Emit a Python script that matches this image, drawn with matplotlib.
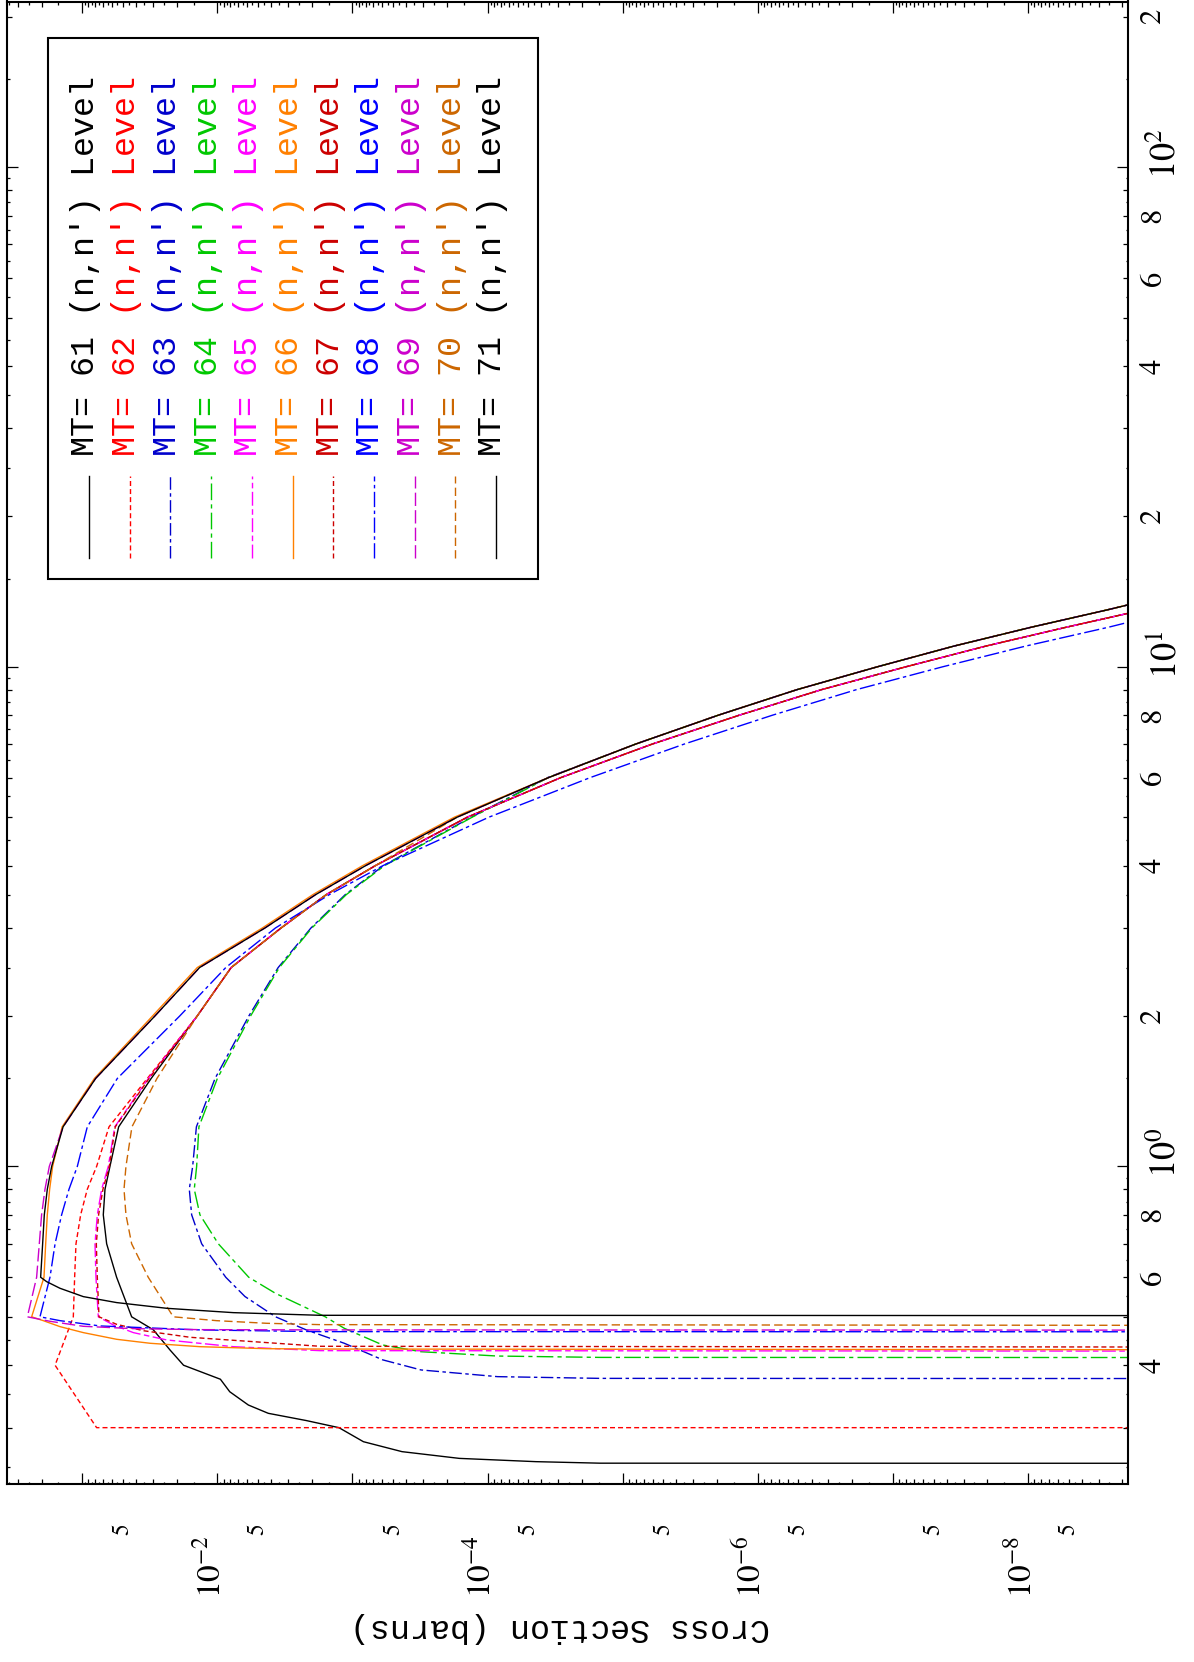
import numpy as np
import matplotlib
matplotlib.use('Agg')
import matplotlib.pyplot as plt
from matplotlib.lines import Line2D
from matplotlib.patches import Rectangle
from matplotlib.ticker import FixedLocator, FuncFormatter
import matplotlib.transforms as mtransforms

# ---------------- data (energy in MeV, cross section in barns) ----------------
G1_E = [1.2, 1.5, 2.0, 2.5, 3.0, 3.5, 4.0, 5.0, 6.0, 7.0, 8.0, 9.0, 10.0, 11.0, 12.0, 13.0, 13.3]
G1_S = [0.1387, 0.0796, 0.0290, 0.01355, 4.45e-3, 1.87e-3, 7.98e-4, 1.68e-4, 3.54e-5, 8.05e-6,
        1.96e-6, 5.12e-7, 1.30e-7, 3.53e-8, 9.44e-9, 2.58e-9, 1.82e-9]
G2_E = [2.0, 2.5, 3.0, 3.5, 4.0, 5.0, 6.0, 7.0, 8.0, 9.0, 10.0, 11.0, 12.0, 12.79]
G2_S = [0.0141, 7.91e-3, 3.38e-3, 1.56e-3, 6.76e-4, 1.41e-4, 2.87e-5, 6.07e-6, 1.37e-6,
        3.37e-7, 8.0e-8, 2.05e-8, 5.2e-9, 1.82e-9]
B68_E = [1.2, 1.5, 2.0, 2.5, 3.0, 3.5, 4.0, 5.0, 6.0, 7.0, 8.0, 9.0, 10.0, 11.0, 12.0, 12.27]
B68_S = [0.0918, 0.055, 0.019, 8.67e-3, 3.72e-3, 1.48e-3, 5.94e-4, 9.77e-5, 1.74e-5, 3.52e-6,
         7.78e-7, 1.86e-7, 4.27e-8, 1.04e-8, 2.53e-9, 1.82e-9]

E_61_LOW = [0.2545, 0.2547, 0.2565, 0.2604, 0.2686, 0.2812, 0.300, 0.310, 0.3205, 0.333, 0.354,
            0.375, 0.400, 0.429, 0.471, 0.500, 0.600, 0.700, 0.800, 0.900, 1.00, 1.2, 1.5]
S_61_LOW = [1e-12, 1.47e-5, 4.4e-5, 1.62e-4, 4.3e-4, 8.3e-4, 1.26e-3, 2.2e-3, 4.2e-3, 5.9e-3, 8.1e-3,
            9.5e-3, 0.0178, 0.0224, 0.0298, 0.0431, 0.0557, 0.066, 0.0699, 0.0679, 0.0624, 0.0538, 0.0309]
E_62_LOW = [0.300, 0.300, 0.400, 0.500, 0.600, 0.700, 0.800, 0.900, 1.00, 1.2, 1.5]
S_62_LOW = [1e-12, 0.0783, 0.159, 0.1165, 0.1139, 0.1113, 0.1028, 0.0918, 0.0783, 0.0634, 0.0330]
E_63_LOW = [0.3760, 0.3765, 0.3795, 0.3914, 0.410, 0.4426, 0.4708, 0.500, 0.549, 0.600, 0.700, 0.800,
            0.900, 1.00, 1.2, 1.5, 2.0, 2.5, 3.0, 3.5, 4.0, 5.0, 6.0]
S_63_LOW = [1e-12, 1.47e-5, 8.44e-5, 3.11e-4, 5.97e-4, 1.15e-3, 2.2e-3, 3.71e-3, 6.25e-3, 8.67e-3,
            0.01307, 0.0155, 0.01614, 0.01524, 0.0143, 0.0104, 5.85e-3, 3.55e-3, 2.03e-3, 1.13e-3,
            5.9e-4, 1.32e-4, 3.6e-5]
E_64_LOW = [0.4143, 0.4147, 0.4173, 0.4257, 0.4391, 0.4742, 0.500, 0.557, 0.600, 0.700, 0.800, 0.900,
            1.00, 1.2, 1.5, 2.0, 2.5, 3.0, 3.5, 4.0, 5.0, 6.0]
S_64_LOW = [1e-12, 1.47e-5, 8.44e-5, 3.11e-4, 5.97e-4, 1.15e-3, 1.59e-3, 3.71e-3, 5.86e-3, 9.84e-3,
            0.01346, 0.01483, 0.01424, 0.0137, 0.0100, 5.68e-3, 3.48e-3, 2.0e-3, 1.11e-3, 5.78e-4,
            1.30e-4, 3.55e-5]
E_65_LOW = [0.4265, 0.4278, 0.4357, 0.4494, 0.4649, 0.4816, 0.500, 0.600, 0.700, 0.800, 0.900, 1.00, 1.2, 1.5]
S_65_LOW = [1e-12, 1.74e-3, 7.62e-3, 0.0237, 0.0419, 0.0589, 0.0761, 0.0792, 0.0805, 0.0774, 0.0719,
            0.0642, 0.0575, 0.0324]
E_66_LOW = [0.4290, 0.4310, 0.4317, 0.4357, 0.4426, 0.4508, 0.4649, 0.4779, 0.4912, 0.500, 0.600, 0.700,
            0.800, 0.900, 1.00, 1.2, 1.5, 2.0, 2.5, 3.0, 3.5, 4.0, 5.0]
S_66_LOW = [1e-12, 1.74e-3, 4.32e-3, 0.01345, 0.0315, 0.0557, 0.0983, 0.1463, 0.1943, 0.237, 0.192,
            0.1866, 0.1815, 0.1744, 0.1657, 0.141, 0.0813, 0.0302, 0.0141, 4.65e-3, 1.96e-3, 8.4e-4, 1.76e-4]
E_67_LOW = [0.4343, 0.4365, 0.455, 0.469, 0.483, 0.500, 0.600, 0.700, 0.800, 0.900, 1.00, 1.2, 1.5]
S_67_LOW = [1e-12, 1.74e-3, 0.01596, 0.0353, 0.0557, 0.0752, 0.0774, 0.0787, 0.0757, 0.0703, 0.0631,
            0.0570, 0.0320]
E_68_LOW = [0.4665, 0.467, 0.4707, 0.4794, 0.4912, 0.500, 0.600, 0.700, 0.800, 0.900, 1.00]
S_68_LOW = [1e-12, 1.74e-3, 0.01345, 0.074, 0.146, 0.2056, 0.1734, 0.159, 0.1422, 0.1254, 0.1088]
E_69_LOW = [0.4700, 0.4707, 0.4713, 0.4735, 0.4786, 0.4898, 0.500, 0.600, 0.700, 0.800, 0.900, 1.00]
S_69_LOW = [1e-12, 1.74e-3, 0.01345, 0.0419, 0.0983, 0.1734, 0.255, 0.2177, 0.208, 0.200, 0.1888, 0.1754]
E_70_LOW = [0.4800, 0.4823, 0.4853, 0.4912, 0.500, 0.600, 0.700, 0.800, 0.900, 1.00, 1.2, 1.5, 2.0,
            2.5, 3.0, 3.5, 4.0]
S_70_LOW = [1e-12, 1.74e-3, 4.32e-3, 0.01012, 0.0212, 0.0325, 0.0431, 0.0475, 0.0491, 0.0475, 0.0429,
            0.0280, 0.0141, 7.91e-3, 3.38e-3, 1.56e-3, 6.76e-4]
E_71_LOW = [0.5025, 0.5035, 0.5097, 0.520, 0.5339, 0.5488, 0.5703, 0.588, 0.600, 0.700, 0.800, 0.900, 1.00]
S_71_LOW = [1e-12, 1.74e-3, 7.62e-3, 0.0237, 0.0557, 0.0983, 0.1463, 0.1836, 0.2033, 0.1965, 0.191,
            0.1815, 0.1685]

MT_NUMBERS = [61, 62, 63, 64, 65, 66, 67, 68, 69, 70, 71]
COLORS = ['#000000', '#FF0000', '#0000CC', '#00C800', '#FF00FF', '#FF8000',
          '#CC0000', '#0000FF', '#CC00CC', '#CC6600', '#000000']
STYLES = ['-', (0, (3.6, 2.2)), (0, (9, 2.5, 2.5, 2.5)), (0, (12, 3, 3, 3)),
          (0, (10, 2.5, 4, 2.5)), '-', (0, (3.6, 2.2)), (0, (11, 2.5, 2.5, 2.5)),
          (0, (9.6, 3)), (0, (6, 3)), '-']
LEGEND_TEXT = "MT= {} (n,n') Level"
XLABEL = 'Cross Section (barns)'

X_MAJOR = [1e-1, 1e-2, 1e-3, 1e-4, 1e-5, 1e-6, 1e-7, 1e-8]
X_MAJOR_LABELS = {1e-2: r'$10^{-2}$', 1e-4: r'$10^{-4}$', 1e-6: r'$10^{-6}$', 1e-8: r'$10^{-8}$'}
Y_MAJOR = [1.0, 10.0, 100.0]
Y_MAJOR_LABELS = {1.0: r'$10^{0}$', 10.0: r'$10^{1}$', 100.0: r'$10^{2}$'}
X_LABELED_MANTISSA = [5]
Y_LABELED_MANTISSA = [2, 4, 6, 8]
XLIM = (0.3607, 1.82e-9)
YLIM = (0.2314, 214.5)


def tail(E, S, e0):
    i = E.index(e0)
    return E[i:], S[i:]


g1_6 = tail(G1_E, G1_S, 6.0)
g1_7 = tail(G1_E, G1_S, 7.0)
g1_5 = tail(G1_E, G1_S, 5.0)

CURVES = [
    (E_61_LOW + G2_E, S_61_LOW + G2_S),
    (E_62_LOW + G2_E, S_62_LOW + G2_S),
    (E_63_LOW + g1_7[0], S_63_LOW + g1_7[1]),
    (E_64_LOW + g1_7[0], S_64_LOW + g1_7[1]),
    (E_65_LOW + G2_E, S_65_LOW + G2_S),
    (E_66_LOW + g1_6[0], S_66_LOW + g1_6[1]),
    (E_67_LOW + G2_E, S_67_LOW + G2_S),
    (E_68_LOW + B68_E, S_68_LOW + B68_S),
    (E_69_LOW + G1_E, S_69_LOW + G1_S),
    (E_70_LOW + g1_5[0], S_70_LOW + g1_5[1]),
    (E_71_LOW + G1_E, S_71_LOW + G1_S),
]

# ---------------- figure ----------------
W, H, DPI = 1194, 1662, 100
plt.rcParams['lines.scale_dashes'] = False
plt.rcParams['mathtext.fontset'] = 'stix'
plt.rcParams['font.family'] = ['STIXGeneral', 'DejaVu Sans']

fig = plt.figure(figsize=(W / DPI, H / DPI), dpi=DPI)
px = mtransforms.Affine2D().scale(1.0 / W, -1.0 / H).translate(0, 1) + fig.transFigure

L, R, T, B = 7, 1128, 1.5, 1484
ax = fig.add_axes([L / W, 1 - B / H, (R - L) / W, (B - T) / H])
ax.set_xscale('log')
ax.set_yscale('log')

for (E, S), c, ls in zip(CURVES, COLORS, STYLES):
    ax.plot(S, E, color=c, linestyle=ls, lw=1.0, dash_capstyle='butt', solid_joinstyle='miter')

ax.set_xlim(*XLIM)
ax.set_ylim(*YLIM)

for sp in ax.spines.values():
    sp.set_linewidth(1.5)


def minor_positions(lo, hi):
    out = []
    for d in range(-10, 4):
        for m in np.arange(1.5, 10.0, 0.5):
            v = m * 10.0 ** d
            if lo < v < hi:
                out.append(v)
    return out


def mant(v):
    e = np.floor(np.log10(v) + 1e-9)
    return v / 10.0 ** e


x_minor = minor_positions(min(XLIM), max(XLIM))
y_minor = minor_positions(min(YLIM), max(YLIM))

ax.xaxis.set_major_locator(FixedLocator(X_MAJOR))
ax.xaxis.set_minor_locator(FixedLocator(x_minor))
ax.yaxis.set_major_locator(FixedLocator(Y_MAJOR))
ax.yaxis.set_minor_locator(FixedLocator(y_minor))


def xmaj_fmt(v, pos):
    for k, s in X_MAJOR_LABELS.items():
        if abs(np.log10(v) - np.log10(k)) < 1e-6:
            return s
    return ''


def ymaj_fmt(v, pos):
    for k, s in Y_MAJOR_LABELS.items():
        if abs(np.log10(v) - np.log10(k)) < 1e-6:
            return s
    return ''


def xmin_fmt(v, pos):
    m = mant(v)
    return str(int(round(m))) if any(abs(m - q) < 1e-6 for q in X_LABELED_MANTISSA) else ''


def ymin_fmt(v, pos):
    m = mant(v)
    return str(int(round(m))) if any(abs(m - q) < 1e-6 for q in Y_LABELED_MANTISSA) else ''


ax.xaxis.set_major_formatter(FuncFormatter(xmaj_fmt))
ax.xaxis.set_minor_formatter(FuncFormatter(xmin_fmt))
ax.yaxis.set_major_formatter(FuncFormatter(ymaj_fmt))
ax.yaxis.set_minor_formatter(FuncFormatter(ymin_fmt))

ax.tick_params(which='both', direction='in', top=True, bottom=True, left=True, right=True,
               labelleft=False, labelright=True, labeltop=False, labelbottom=True,
               width=0.9, color='black')
ax.tick_params(which='major', length=8.0)
ax.tick_params(which='minor', length=3.4)
ax.tick_params(axis='x', which='major', pad=37, labelsize=24, labelrotation=90)
ax.tick_params(axis='x', which='minor', pad=28, labelsize=17, labelrotation=90)
ax.tick_params(axis='y', which='major', pad=15, labelsize=26, labelrotation=90)
ax.tick_params(axis='y', which='minor', pad=8.5, labelsize=22, labelrotation=90)

SMALL = 1.8
xl = list(ax.xaxis.get_minorticklocs())
for t, v in zip(ax.xaxis.get_minor_ticks(len(xl)), xl):
    m = mant(v)
    if abs(m - round(m)) > 0.25:
        t.tick1line.set_markersize(SMALL)
        t.tick2line.set_markersize(SMALL)
    t.label1.set_horizontalalignment('center')
yl = list(ax.yaxis.get_minorticklocs())
for t, v in zip(ax.yaxis.get_minor_ticks(len(yl)), yl):
    m = mant(v)
    if abs(m - round(m)) > 0.25:
        t.tick1line.set_markersize(SMALL)
        t.tick2line.set_markersize(SMALL)
    t.label2.set_verticalalignment('center')
xm = list(ax.xaxis.get_majorticklocs())
xshift = mtransforms.ScaledTranslation(10.0 / DPI, 0, fig.dpi_scale_trans)
for t in ax.xaxis.get_major_ticks(len(xm)):
    t.label1.set_horizontalalignment('right')
    t.label1.set_transform(t.label1.get_transform() + xshift)
ym = list(ax.yaxis.get_majorticklocs())
yshift = mtransforms.ScaledTranslation(0, -12.0 / DPI, fig.dpi_scale_trans)
for t in ax.yaxis.get_major_ticks(len(ym)):
    t.label2.set_verticalalignment('bottom')
    t.label2.set_transform(t.label2.get_transform() + yshift)

# ---------------- rotated legend ----------------
fig.add_artist(Rectangle((47.5, 38.0), 490.0, 540.5, transform=px, fill=False,
                         lw=1.5, ec='black'))
x0, dx = 89.0, 40.7
for i, (mt, c, ls) in enumerate(zip(MT_NUMBERS, COLORS, STYLES)):
    xc = x0 + i * dx
    fig.add_artist(Line2D([xc, xc], [557.9, 476.4], transform=px, color=c, linestyle=ls,
                          lw=1.0, dash_capstyle='butt'))
    fig.text(xc - 3, 455.5, LEGEND_TEXT.format(mt), transform=px, rotation=90,
             ha='center', va='bottom', color=c, fontsize=24, family=['Liberation Mono'])

fig.text(560, 1628, XLABEL, transform=px, rotation=180, ha='center', va='center',
         fontsize=24, family=['Liberation Mono'])

fig.savefig('out.png', dpi=DPI)
